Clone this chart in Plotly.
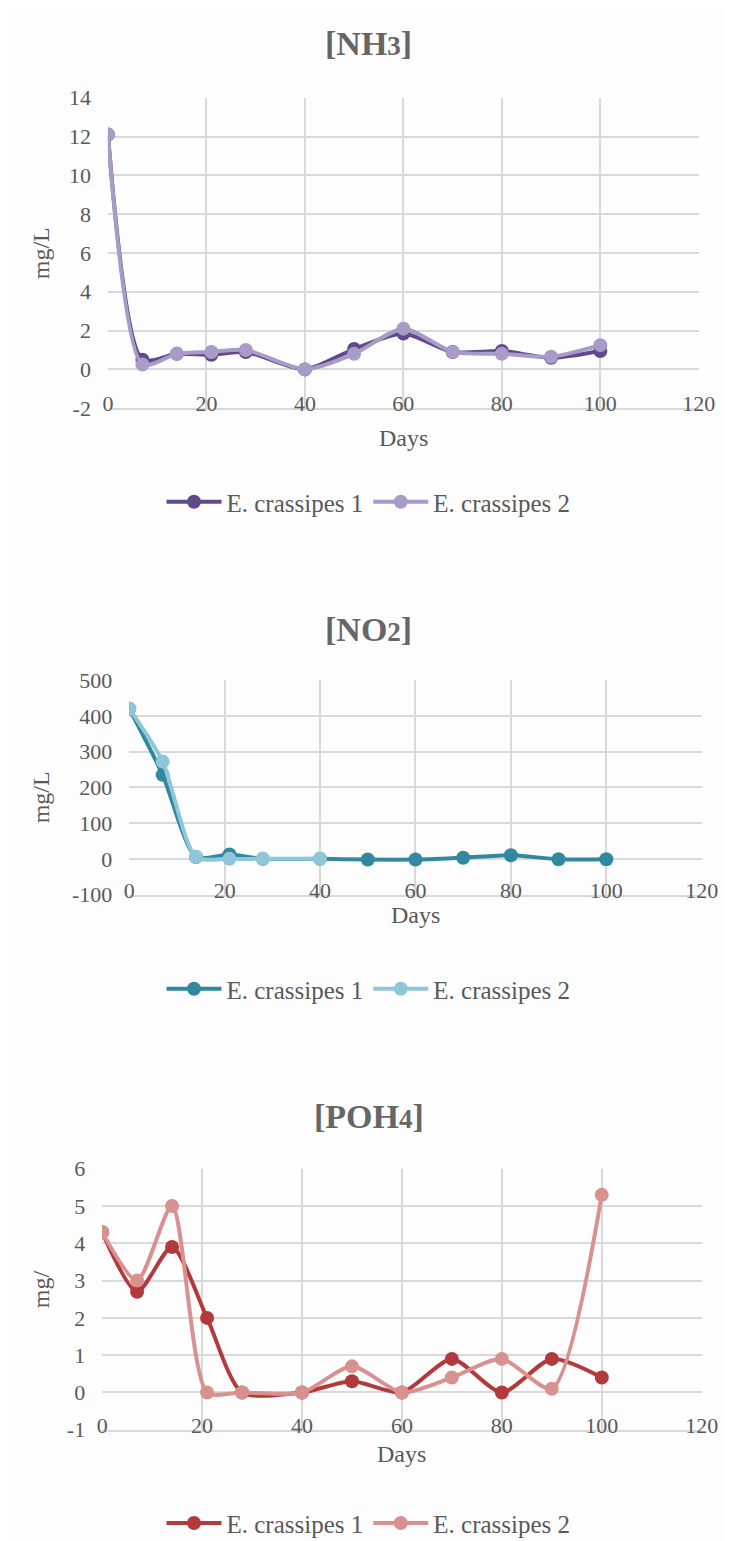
import plotly.graph_objects as go

# ---------------- data ----------------
days = [0, 7, 14, 21, 28, 40, 50, 60, 70, 80, 90, 100]

nh3_s1 = [12.1, 0.5, 0.8, 0.75, 0.9, 0.0, 1.05, 1.85, 0.9, 0.95, 0.6, 0.95]
nh3_s2 = [12.1, 0.25, 0.8, 0.9, 1.0, 0.0, 0.8, 2.1, 0.9, 0.8, 0.65, 1.25]

no2_days_s2 = [0, 7, 14, 21, 28, 40]
no2_s1 = [420, 235, 5, 12, 0, 0, -2, -2, 3, 10, -1, -1]
no2_s2 = [420, 272, 5, 0, 0, 0]

poh4_s1 = [4.3, 2.7, 3.9, 2.0, 0.0, 0.0, 0.3, 0.0, 0.9, 0.0, 0.9, 0.4]
poh4_s2 = [4.3, 3.0, 5.0, 0.0, 0.0, 0.0, 0.7, 0.0, 0.4, 0.9, 0.1, 5.3]

series_names = ["E. crassipes 1", "E. crassipes 2"]
x_ticks = [0, 20, 40, 60, 80, 100, 120]
nh3_yticks = [-2, 0, 2, 4, 6, 8, 10, 12, 14]
no2_yticks = [-100, 0, 100, 200, 300, 400, 500]
poh4_yticks = [-1, 0, 1, 2, 3, 4, 5, 6]

W, H = 732, 1541
FONT = "Liberation Serif"
TXT = "#595959"
GRID = "#d9d9d9"


def px_x(p):
    return p / W


def px_y(p):
    return 1 - p / H


panels = [
    dict(title="[NH<span style='font-size:27px'>3</span>]", ylab="mg/L",
         xs=[days, days], ys=[nh3_s1, nh3_s2],
         colors=["#604a8b", "#a99bc8"],
         xdom=[97, 707], ydom=[79, 394.6], yr=[-2, 14], yt=nh3_yticks,
         title_y=24, days_y=425, ylab_y=237, leg_y=490),
    dict(title="[NO<span style='font-size:27px'>2</span>]", ylab="mg/L",
         xs=[days, no2_days_s2], ys=[no2_s1, no2_s2],
         colors=["#31899f", "#8fc6da"],
         xdom=[119, 710], ydom=[671, 889], yr=[-100, 500], yt=no2_yticks,
         title_y=620, days_y=910, ylab_y=790, leg_y=985),
    dict(title="[POH<span style='font-size:27px'>4</span>]", ylab="mg/",
         xs=[days, days], ys=[poh4_s1, poh4_s2],
         colors=["#b23a3d", "#d99190"],
         xdom=[91, 710], ydom=[1167.7, 1433], yr=[-1, 6], yt=poh4_yticks,
         title_y=1115, days_y=1458, ylab_y=1290, leg_y=1528),
]

fig = go.Figure()
annotations = []
layout = {}

for i, p in enumerate(panels):
    n = "" if i == 0 else str(i + 1)
    leg = "legend" if i == 0 else f"legend{i + 1}"
    for k in range(2):
        fig.add_trace(go.Scatter(
            x=p["xs"][k], y=p["ys"][k], name=series_names[k],
            mode="lines+markers",
            line=dict(color=p["colors"][k], width=4, shape="spline", smoothing=0.7),
            marker=dict(color=p["colors"][k], size=14),
            xaxis="x" + n, yaxis="y" + n, legend=leg,
        ))
    xd = [px_x(p["xdom"][0]), px_x(p["xdom"][1])]
    yd = [px_y(p["ydom"][1]), px_y(p["ydom"][0])]
    layout["xaxis" + n] = dict(
        domain=xd, anchor="y" + n, range=[0, 120], tickvals=x_ticks,
        showgrid=True, gridcolor=GRID, gridwidth=1.5,
        showline=True, linecolor=GRID, linewidth=1.5,
        zeroline=False, ticks="", ticklabelstandoff=-25,
        tickfont=dict(family=FONT, size=22, color=TXT),
    )
    layout["yaxis" + n] = dict(
        domain=yd, anchor="x" + n, range=p["yr"],
        tickvals=p["yt"], ticktext=[str(v) for v in p["yt"]],
        showgrid=True, gridcolor=GRID, gridwidth=1.5,
        zeroline=True, zerolinecolor=GRID, zerolinewidth=1.5,
        showline=False, ticks="", ticklabelstandoff=16,
        tickfont=dict(family=FONT, size=22, color=TXT),
    )
    layout[leg] = dict(
        orientation="h", x=0.5, xanchor="center", y=px_y(p["leg_y"]),
        yanchor="middle", itemwidth=55, bgcolor="rgba(0,0,0,0)",
        font=dict(family=FONT, size=25, color=TXT),
    )
    xc = (xd[0] + xd[1]) / 2
    annotations.append(dict(
        text=f"<b>{p['title']}</b>", x=0.5, y=px_y(p["title_y"]),
        xref="paper", yref="paper", showarrow=False,
        font=dict(family=FONT, size=34, color="#666666"),
        xanchor="center", yanchor="middle"))
    annotations.append(dict(
        text="Days", x=xc, y=px_y(p["days_y"]), xref="paper", yref="paper",
        showarrow=False, font=dict(family=FONT, size=24, color=TXT),
        xanchor="center", yanchor="middle"))
    annotations.append(dict(
        text=p["ylab"], x=px_x(28), y=px_y(p["ylab_y"]), xref="paper",
        yref="paper", showarrow=False, textangle=-90,
        font=dict(family=FONT, size=24, color=TXT),
        xanchor="center", yanchor="middle"))

fig.update_layout(
    width=W, height=H, autosize=False,
    margin=dict(l=0, r=0, t=0, b=0),
    paper_bgcolor="#fdfdfd", plot_bgcolor="#fdfdfd",
    annotations=annotations, showlegend=True,
    **layout,
)

fig.write_html("out.html")
